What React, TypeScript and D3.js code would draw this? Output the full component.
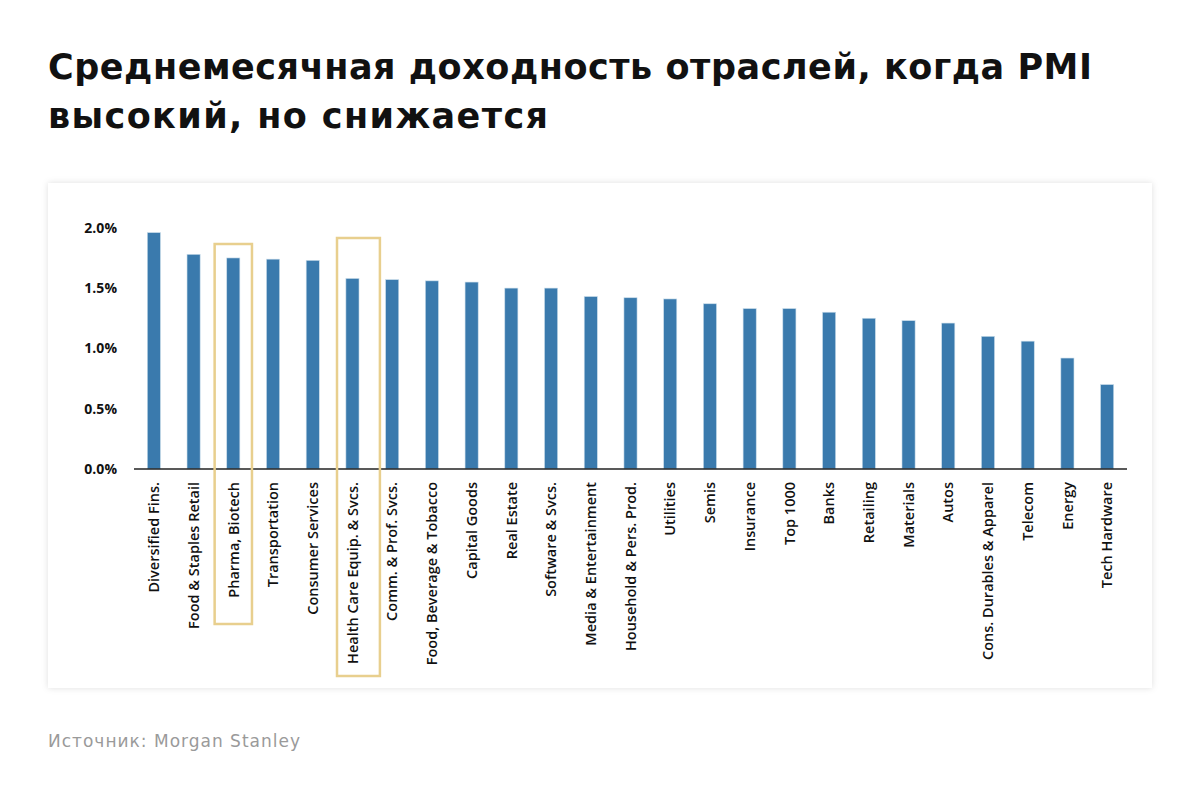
import * as d3 from 'd3'

const categories = [
  'Diversified Fins.',
  'Food & Staples Retail',
  'Pharma, Biotech',
  'Transportation',
  'Consumer Services',
  'Health Care Equip. & Svcs.',
  'Comm. & Prof. Svcs.',
  'Food, Beverage & Tobacco',
  'Capital Goods',
  'Real Estate',
  'Software & Svcs.',
  'Media & Entertainment',
  'Household & Pers. Prod.',
  'Utilities',
  'Semis',
  'Insurance',
  'Top 1000',
  'Banks',
  'Retailing',
  'Materials',
  'Autos',
  'Cons. Durables & Apparel',
  'Telecom',
  'Energy',
  'Tech Hardware',
]

// average monthly return, %
const returns = [
  1.96, 1.78, 1.75, 1.74, 1.73, 1.58, 1.57, 1.56, 1.55, 1.5, 1.5, 1.43, 1.42,
  1.41, 1.37, 1.33, 1.33, 1.3, 1.25, 1.23, 1.21, 1.1, 1.06, 0.92, 0.7,
]

const yTicks = [0, 0.5, 1, 1.5, 2]
const highlighted = ['Pharma, Biotech', 'Health Care Equip. & Svcs.']

const title = ['Среднемесячная доходность отраслей, когда PMI', 'высокий, но снижается']
const source = 'Источник: Morgan Stanley'

const W = 1200
const H = 789

export default function App() {
  const x = d3.scaleBand<string>().domain(categories).range([134, 1127]).paddingInner(0.67).paddingOuter(0.335)
  const y = d3.scaleLinear().domain([0, 2]).range([469, 227.8])
  const step = x.step()
  const labelTop = 482

  // annotation boxes around the highlighted labels
  const boxBottom: Record<string, number> = {
    'Pharma, Biotech': 624,
    'Health Care Equip. & Svcs.': 676,
  }
  const boxTop: Record<string, number> = {
    'Pharma, Biotech': 244,
    'Health Care Equip. & Svcs.': 238,
  }

  const titleWidths = [1044, 500]

  return (
    <div style={{ position: 'absolute', left: 0, top: 0 }}>
      <svg width={W} height={H} style={{ display: 'block', background: '#fff' }}>
        <defs>
          <filter id="shadow" x="-5%" y="-5%" width="110%" height="110%">
            <feDropShadow dx="0" dy="0" stdDeviation="3" floodColor="#000" floodOpacity="0.13" />
          </filter>
        </defs>

        {title.map((t, i) => (
          <text
            key={i}
            x={48}
            y={79 + i * 49}
            textLength={titleWidths[i]}
            lengthAdjust="spacing"
            fontFamily="'DejaVu Sans', sans-serif"
            fontWeight={700}
            fontSize={35}
            fill="#111"
          >
            {t}
          </text>
        ))}

        <rect x={48} y={183} width={1104} height={505} fill="#fff" filter="url(#shadow)" />

        {yTicks.map(t => (
          <text
            key={t}
            x={117}
            y={y(t)}
            dy="0.35em"
            textAnchor="end"
            fontFamily="'Open Sans', sans-serif"
            fontWeight={700}
            fontSize={14}
            fill="#111"
          >
            {t.toFixed(1)}%
          </text>
        ))}

        {categories.map((c, i) => (
          <rect
            key={c}
            x={x(c)}
            y={y(returns[i])}
            width={x.bandwidth()}
            height={y(0) - y(returns[i])}
            fill="#3a7aad"
            stroke="#c9dcea"
            strokeWidth={0.6}
          />
        ))}

        <line x1={134} x2={1127} y1={y(0)} y2={y(0)} stroke="#222" strokeWidth={1.3} />

        {categories.map(c => (
          <text
            key={c}
            transform={`translate(${(x(c) ?? 0) + x.bandwidth() / 2},${labelTop}) rotate(-90)`}
            dy="0.36em"
            textAnchor="end"
            fontFamily="'Open Sans', sans-serif"
            fontWeight={600}
            fontSize={14.5}
            fill="#111"
          >
            {c}
          </text>
        ))}

        {highlighted.map(c => {
          const cx = (x(c) ?? 0) + x.bandwidth() / 2 + (c === 'Pharma, Biotech' ? 0 : 6)
          const half = c === 'Pharma, Biotech' ? step * 0.47 : step * 0.54
          return (
            <rect
              key={c}
              x={cx - half}
              y={boxTop[c]}
              width={half * 2}
              height={boxBottom[c] - boxTop[c]}
              fill="none"
              stroke="#e8cf8e"
              strokeWidth={2.5}
            />
          )
        })}

        <text
          x={48}
          y={747}
          textLength={252}
          lengthAdjust="spacing"
          fontFamily="'DejaVu Sans', sans-serif"
          fontSize={17}
          fill="#9a9a9a"
        >
          {source}
        </text>
      </svg>
    </div>
  )
}
